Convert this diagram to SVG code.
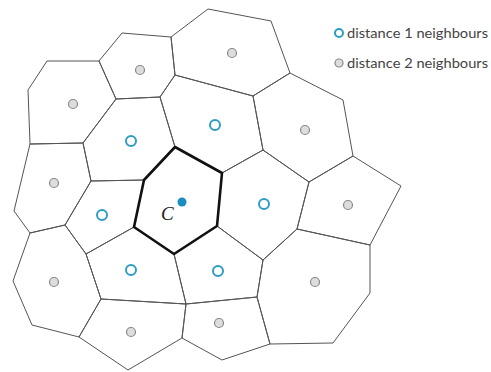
<svg xmlns="http://www.w3.org/2000/svg" width="491" height="372" viewBox="0 0 491 372">
<style>
.cell{fill:none;stroke:#555;stroke-width:1;stroke-linejoin:round}
.center{fill:none;stroke:#111;stroke-width:2.6;stroke-linejoin:round}
.d1{fill:#fff;stroke:#2f9cc4;stroke-width:2}
.d2{fill:#ddd;stroke:#888;stroke-width:1.2}
.lbl{font-family:Lato,"Liberation Sans",sans-serif;font-size:14px;fill:#444}
</style>
<rect width="491" height="372" fill="#fff"/>
<g id="cell-d2-a"><polygon class="cell" points="122,33 171,37 175,75 160,97 116,99 99,61"/><circle class="d2" cx="140" cy="70" r="4.5"/></g>
<g id="cell-d2-b"><polygon class="cell" points="208,9 271,21 290,73 253,96 175,75 171,37"/><circle class="d2" cx="232" cy="53" r="4.5"/></g>
<g id="cell-d2-c"><polygon class="cell" points="28,90 47,61 99,61 116,99 83,143 30,144"/><circle class="d2" cx="73" cy="104" r="4.5"/></g>
<g id="cell-d2-d"><polygon class="cell" points="253,96 290,73 343,100 353,156 309,182 263,150"/><circle class="d2" cx="305" cy="130" r="4.5"/></g>
<g id="cell-d2-e"><polygon class="cell" points="30,144 83,143 91,181 65,225 30,233 14,211"/><circle class="d2" cx="54" cy="183" r="4.5"/></g>
<g id="cell-d2-f"><polygon class="cell" points="309,182 353,156 401,186 370,245 297,229"/><circle class="d2" cx="348" cy="205" r="4.5"/></g>
<g id="cell-d2-g"><polygon class="cell" points="30,233 65,225 86,254 101,299 79,337 32,325 13,281"/><circle class="d2" cx="54" cy="282" r="4.5"/></g>
<g id="cell-d2-h"><polygon class="cell" points="79,337 101,299 186,304 182,338 128,370"/><circle class="d2" cx="131" cy="332" r="4.5"/></g>
<g id="cell-d2-i"><polygon class="cell" points="186,304 257,297 270,344 222,360 182,338"/><circle class="d2" cx="219" cy="323" r="4.5"/></g>
<g id="cell-d2-j"><polygon class="cell" points="263,260 297,229 370,245 370,293 333,343 270,344 257,297"/><circle class="d2" cx="315" cy="282" r="4.5"/></g>
<g id="cell-d1-a"><polygon class="cell" points="116,99 160,97 175,147 144,180 91,181 83,143"/><circle class="d1" cx="131" cy="141" r="5"/></g>
<g id="cell-d1-b"><polygon class="cell" points="175,75 253,96 263,150 222,173 175,147 160,97"/><circle class="d1" cx="215" cy="125" r="5"/></g>
<g id="cell-d1-c"><polygon class="cell" points="222,173 263,150 309,182 297,229 263,260 217,226"/><circle class="d1" cx="264" cy="204" r="5"/></g>
<g id="cell-d1-d"><polygon class="cell" points="174,254 217,226 263,260 257,297 186,304"/><circle class="d1" cx="218" cy="271" r="5"/></g>
<g id="cell-d1-e"><polygon class="cell" points="134,227 174,254 186,304 101,299 86,254"/><circle class="d1" cx="131" cy="270" r="5"/></g>
<g id="cell-d1-f"><polygon class="cell" points="91,181 144,180 134,227 86,254 65,225"/><circle class="d1" cx="102" cy="215" r="5"/></g>
<g id="cell-C"><polygon class="center" points="175,147 222,173 217,226 174,254 134,227 144,180"/><circle cx="182" cy="202" r="4.5" fill="#1a8cbf"/><text x="161" y="220" font-family="'Liberation Serif',serif" font-style="italic" font-size="19" fill="#222">C</text></g>
<g id="legend">
<circle class="d1" cx="339" cy="33" r="4"/><text class="lbl" x="347" y="37.5" textLength="141" lengthAdjust="spacingAndGlyphs">distance 1 neighbours</text>
<circle class="d2" cx="339" cy="63" r="4"/><text class="lbl" x="347" y="67.5" textLength="141" lengthAdjust="spacingAndGlyphs">distance 2 neighbours</text>
</g>
</svg>
